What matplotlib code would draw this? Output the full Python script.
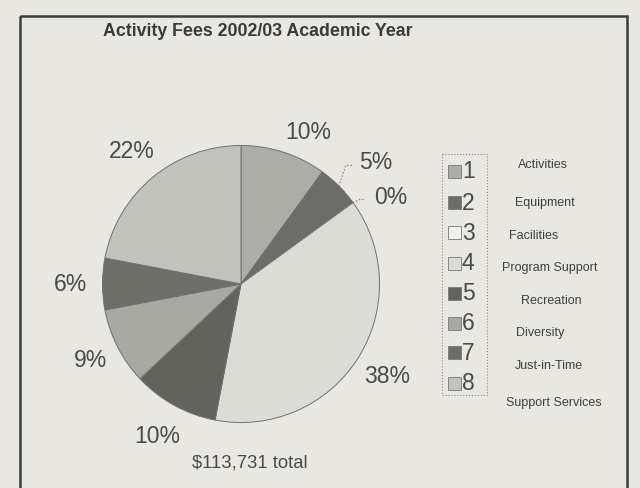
import numpy as np
import matplotlib.pyplot as plt
from matplotlib.patches import Rectangle

plt.rcParams['font.family'] = ['Liberation Sans', 'DejaVu Sans']

title = "Activity Fees 2002/03 Academic Year"
total_text = "$113,731 total"
categories = ["Activities", "Equipment", "Facilities", "Program Support",
              "Recreation", "Diversity", "Just-in-Time", "Support Services"]
numbers = ["1", "2", "3", "4", "5", "6", "7", "8"]
shares = [10, 5, 0, 38, 10, 9, 6, 22]
pct_labels = ["10%", "5%", "0%", "38%", "10%", "9%", "6%", "22%"]

colors = ["#adada8", "#6c6c68", "#f0f0ec", "#dcdcd7",
          "#63635e", "#a9a9a4", "#6e6e69", "#c2c2bd"]
label_dist = [1.2, 1.31, 1.25, 1.25, 1.26, 1.22, 1.23, 1.24]
label_shift = [-6, -3, -6, 0, 0, 0, 0, 0]   # degrees

paper = "#e8e7e2"
ink = "#4a4a47"

W, H = 640, 488
fig = plt.figure(figsize=(6.4, 4.88), dpi=100, facecolor=paper)

# frame
frame = fig.add_axes([0, 0, 1, 1], facecolor="none")
frame.set_xlim(0, W)
frame.set_ylim(H, 0)
frame.axis("off")
frame.add_patch(Rectangle((20, 16), 607, 500, fill=False, ec="#3c3c3a", lw=1.8))

# pie
cx, cy, r = 241, 284, 138.5
half = 160
ax = fig.add_axes([(cx - half) / W, (H - cy - half) / H, 2 * half / W, 2 * half / H])
ax.set_facecolor("none")
wedges, _ = ax.pie(shares, colors=colors, startangle=90, counterclock=False,
                   radius=1, wedgeprops=dict(edgecolor="#707070", linewidth=0.7))
lim = half / r
ax.set_xlim(-lim, lim)
ax.set_ylim(-lim, lim)
ax.set_aspect("equal")

for w, lab, d, s in zip(wedges, pct_labels, label_dist, label_shift):
    ang = np.deg2rad((w.theta1 + w.theta2) / 2 + s)
    ax.text(d * np.cos(ang), d * np.sin(ang), lab, ha="center", va="center",
            fontsize=16.5, color=ink)

# leader lines for the small slices
for i in (1, 2):
    w = wedges[i]
    ang = np.deg2rad((w.theta1 + w.theta2) / 2)
    lang = np.deg2rad((w.theta1 + w.theta2) / 2 + label_shift[i])
    d = label_dist[i]
    x0, y0 = 1.0 * np.cos(ang), 1.0 * np.sin(ang)
    x1, y1 = (d - 0.22) * np.cos(lang), (d - 0.03) * np.sin(lang)
    ax.plot([x0, x0 + 0.05, x1], [y0, y1, y1], ls=":", color="#777", lw=0.9)

# title and total
frame.text(103, 31, title, fontsize=12.8, fontweight="bold", color="#3a3a38",
           va="center", ha="left")
frame.text(250, 463, total_text, fontsize=13.3, color=ink, va="center", ha="center")

# legend box
frame.add_patch(Rectangle((442, 154), 45, 241, fill=False, ec="#888", lw=0.8, ls=":"))
row_y = [171, 202, 232, 263, 293, 323, 352, 383]
name_pos = [(543, 165), (545, 203), (534, 236), (550, 268),
            (551, 301), (540, 333), (549, 366), (554, 403)]
for c, n, y in zip(colors, numbers, row_y):
    frame.add_patch(Rectangle((448, y - 6.5), 13, 13, fc=c, ec="#777", lw=0.6))
    frame.text(462, y + 1, n, fontsize=16.5, color=ink, va="center", ha="left")
for name, (x, y) in zip(categories, name_pos):
    frame.text(x, y, name, fontsize=9, color="#3f3f3c", va="center", ha="center")

fig.savefig("out.png", dpi=100, facecolor=paper)
